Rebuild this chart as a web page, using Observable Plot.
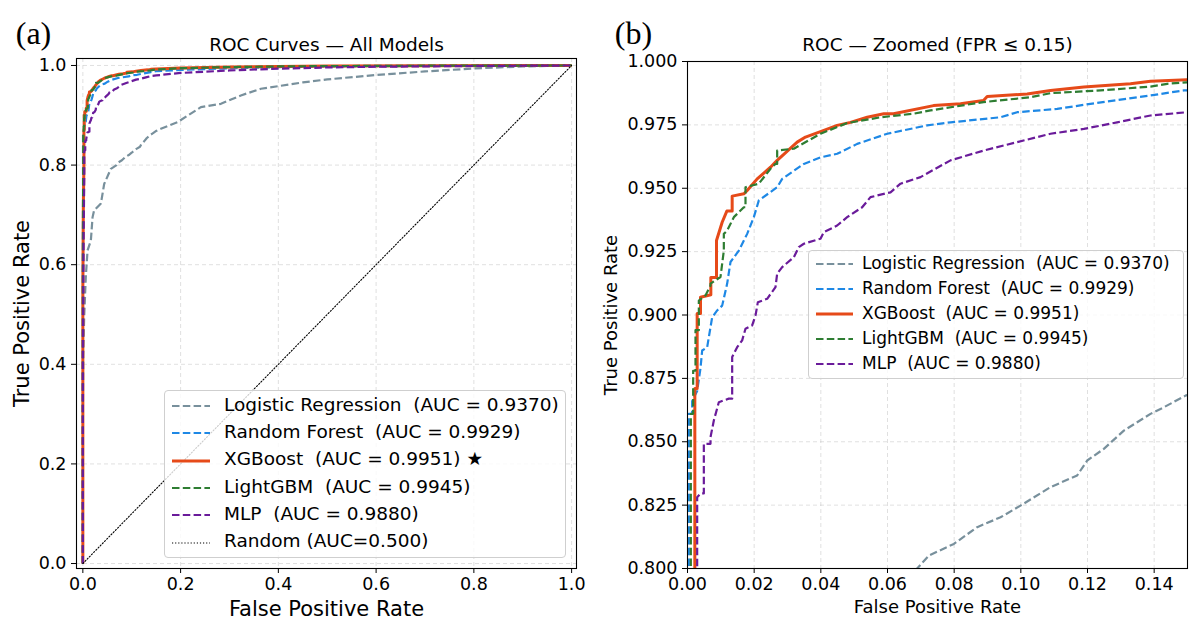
<!DOCTYPE html>
<html>
<head>
<meta charset="utf-8">
<script src="https://cdn.jsdelivr.net/npm/d3@7"></script>
<script src="https://cdn.jsdelivr.net/npm/@observablehq/plot@0.6"></script>
<style>
  body { margin: 0; background: #fff; font-family: "DejaVu Sans", sans-serif; }
  #wrap { position: relative; width: 1191px; height: 622px; overflow: hidden; background: #fff; }
  #wrap > svg { position: absolute; top: 0; overflow: visible; }
  .legend { position: absolute; background: rgba(255,255,255,0.8); border: 1px solid #cfcfcf; border-radius: 4px; box-sizing: border-box; }
  .legend .row { position: absolute; left: 0; white-space: pre; color: #000; font-family: "DejaVu Sans", sans-serif; line-height: 1; }
  .legend svg { position: absolute; overflow: visible; }
</style>
</head>
<body>
<div id="wrap"></div>
<script>
// ---------------- data ----------------
const modelNames  = ["Logistic Regression", "Random Forest", "XGBoost", "LightGBM", "MLP"];
const modelAUC    = ["0.9370", "0.9929", "0.9951", "0.9945", "0.9880"];
const modelColors = ["#78909C", "#1E88E5", "#E64A19", "#2E7D32", "#6A1B9A"];
const bestModel   = "XGBoost";
const randomLabel = "Random (AUC=0.500)";

// [FPR, TPR] points
const lrPoints = [[0,0],[0,0.30],[0.001,0.42],[0.0027,0.495],[0.006,0.575],[0.0096,0.6285],[0.0164,0.6486],[0.0198,0.695],[0.023,0.709],[0.037,0.723],[0.0436,0.762],[0.0573,0.7925],[0.0689,0.80],[0.0724,0.8051],[0.0799,0.8097],[0.0869,0.8163],[0.0939,0.8202],[0.0999,0.8248],[0.1089,0.8321],[0.1169,0.8367],[0.1199,0.8426],[0.1249,0.8472],[0.1309,0.8544],[0.1389,0.861],[0.1429,0.8636],[0.1494,0.8682],[0.1596,0.8728],[0.1937,0.8862],[0.2415,0.9163],[0.2824,0.923],[0.3233,0.9398],[0.3642,0.9532],[0.45,0.966],[0.5,0.972],[0.6,0.981],[0.7,0.988],[0.8,0.994],[0.9,0.998],[1,1]];

const rfPoints = [[0,0],[0,0.5],[0.0004,0.70],[0.0004,0.861],[0.0014,0.861],[0.0014,0.866],[0.0029,0.870],[0.0039,0.879],[0.0044,0.886],[0.0059,0.8873],[0.0074,0.8991],[0.0089,0.9018],[0.0104,0.9037],[0.0119,0.9124],[0.0129,0.9209],[0.0154,0.9254],[0.0179,0.932],[0.0199,0.9386],[0.0214,0.9452],[0.0269,0.9504],[0.0284,0.9537],[0.0349,0.9596],[0.0399,0.9622],[0.0449,0.9636],[0.0509,0.9675],[0.0599,0.9715],[0.0719,0.9748],[0.0789,0.976],[0.0939,0.978],[0.0989,0.98],[0.1109,0.9813],[0.1209,0.9833],[0.1389,0.9866],[0.1489,0.9886],[0.2,0.991],[0.3,0.9945],[0.4,0.9965],[0.5,0.998],[0.7,0.9992],[1,1]];

const xgbPoints = [[0,0],[0,0.55],[0.001,0.72],[0.0022,0.80],[0.0022,0.871],[0.0029,0.871],[0.0029,0.9006],[0.0039,0.9006],[0.0039,0.907],[0.007,0.908],[0.007,0.9148],[0.0087,0.9148],[0.0087,0.9294],[0.0104,0.9366],[0.0118,0.941],[0.0134,0.941],[0.0134,0.9469],[0.0169,0.9478],[0.0179,0.9491],[0.0209,0.9537],[0.0249,0.9583],[0.0269,0.961],[0.0329,0.9682],[0.0354,0.9702],[0.0409,0.9728],[0.0449,0.9748],[0.0489,0.976],[0.0539,0.978],[0.0589,0.9794],[0.0618,0.9794],[0.0738,0.9826],[0.0819,0.9833],[0.0888,0.9846],[0.0899,0.9862],[0.1019,0.9872],[0.1089,0.9886],[0.1189,0.9899],[0.1329,0.9912],[0.1389,0.9922],[0.15,0.9928],[0.2,0.995],[0.3,0.997],[0.4,0.998],[0.5,0.999],[0.7,0.9995],[1,1]];

const lgbmPoints = [[0,0],[0,0.55],[0.0005,0.74],[0.001,0.80],[0.001,0.861],[0.0017,0.861],[0.0017,0.878],[0.0024,0.878],[0.0024,0.894],[0.0034,0.894],[0.0034,0.9057],[0.0054,0.9077],[0.0069,0.9116],[0.0069,0.9124],[0.0099,0.915],[0.0109,0.9254],[0.0109,0.932],[0.0119,0.9333],[0.0139,0.9386],[0.0169,0.9425],[0.0174,0.9425],[0.0174,0.9504],[0.0214,0.9518],[0.0249,0.9577],[0.0264,0.9596],[0.0269,0.9596],[0.0269,0.9649],[0.0319,0.9656],[0.0399,0.9715],[0.0479,0.9757],[0.0579,0.978],[0.0678,0.9794],[0.0729,0.9807],[0.0888,0.984],[0.1029,0.9859],[0.1089,0.9875],[0.1239,0.9886],[0.1389,0.9901],[0.1439,0.9912],[0.15,0.9918],[0.2,0.9945],[0.3,0.9968],[0.4,0.998],[0.5,0.9988],[0.7,0.9995],[1,1]];

const mlpPoints = [[0,0],[0,0.4],[0.0015,0.65],[0.0029,0.78],[0.0029,0.8281],[0.0039,0.8296],[0.0049,0.8296],[0.0049,0.8492],[0.0069,0.8492],[0.0069,0.8518],[0.0079,0.8584],[0.0094,0.8656],[0.0124,0.867],[0.0134,0.867],[0.0134,0.8834],[0.0149,0.8873],[0.0164,0.89],[0.0174,0.8946],[0.0194,0.8959],[0.0204,0.8998],[0.0211,0.905],[0.0239,0.9064],[0.0264,0.911],[0.0269,0.9163],[0.0284,0.9189],[0.0319,0.9228],[0.0334,0.9268],[0.0349,0.9281],[0.0399,0.9301],[0.0409,0.9327],[0.0449,0.9353],[0.0479,0.9386],[0.0524,0.9425],[0.0549,0.9465],[0.0609,0.9484],[0.0639,0.9518],[0.0699,0.9544],[0.0789,0.961],[0.0889,0.9649],[0.0989,0.9682],[0.1089,0.9715],[0.1189,0.9734],[0.1289,0.976],[0.1389,0.9787],[0.15,0.98],[0.2,0.985],[0.3,0.99],[0.4,0.9935],[0.5,0.996],[0.6,0.9975],[0.8,0.999],[1,1]];

const randomPoints = [[0,0],[1,1]];

const xTicksA = [0, 0.2, 0.4, 0.6, 0.8, 1.0];
const yTicksA = [0, 0.2, 0.4, 0.6, 0.8, 1.0];
const xTicksB = [0, 0.02, 0.04, 0.06, 0.08, 0.10, 0.12, 0.14];
const yTicksB = [0.800, 0.825, 0.850, 0.875, 0.900, 0.925, 0.950, 0.975, 1.000];

const titleA = "ROC Curves — All Models";
const titleB = "ROC — Zoomed (FPR ≤ 0.15)";
const xLabel = "False Positive Rate";
const yLabel = "True Positive Rate";

// ---------------- drawing ----------------
const series = [lrPoints, rfPoints, xgbPoints, lgbmPoints, mlpPoints];
const dashModel = "7.5,3.3";
const dashRandom = "1.2,1.9";
function lineStyle(i) {
  const o = {stroke: modelColors[i], strokeWidth: modelNames[i] === bestModel ? 3 : 2.2, strokeLinecap: "butt", strokeLinejoin: "round"};
  if (modelNames[i] !== bestModel) o.strokeDasharray = dashModel;
  return o;
}
function modelMarks() {
  return series.map((pts, i) => Plot.line(pts, {x: d => d[0], y: d => d[1], clip: true, ...lineStyle(i)}));
}
const gridStyle = {stroke: "#b8b8b8", strokeOpacity: 0.55, strokeWidth: 0.8, strokeDasharray: "4,3"};
const txt = {lineAnchor: "middle", textAnchor: "middle", fill: "#000"};
const tickFont = 17.5;

const left = Plot.plot({
  width: 595, height: 622,
  marginLeft: 76, marginRight: 19, marginTop: 58, marginBottom: 54,
  x: {domain: [-0.013, 1.01]},
  y: {domain: [-0.010, 1.014]},
  style: {fontFamily: "DejaVu Sans", fontSize: "16px", color: "#000", background: "transparent"},
  marks: [
    Plot.gridX(xTicksA, gridStyle),
    Plot.gridY(yTicksA, gridStyle),
    ...modelMarks(),
    Plot.line(randomPoints, {x: d => d[0], y: d => d[1], stroke: "#000", strokeWidth: 1.1, strokeDasharray: dashRandom}),
    Plot.frame({stroke: "#000", strokeWidth: 1.1}),
    Plot.axisX(xTicksA, {tickFormat: d3.format(".1f"), tickSize: 5, tickPadding: 4, fontSize: tickFont, label: null}),
    Plot.axisY(yTicksA, {tickFormat: d3.format(".1f"), tickSize: 5, tickPadding: 5, fontSize: tickFont, label: null}),
    Plot.text([titleA], {frameAnchor: "top", dy: -13, fontSize: 18.5, ...txt}),
    Plot.text(["(a)"], {frameAnchor: "top-left", dx: -43, dy: -25, fontSize: 32, fontFamily: "Liberation Serif", ...txt}),
    Plot.text([xLabel], {frameAnchor: "bottom", dy: 41, fontSize: 21, ...txt}),
    Plot.text([yLabel], {frameAnchor: "left", dx: -54, rotate: -90, fontSize: 21, ...txt})
  ]
});

const right = Plot.plot({
  width: 596, height: 622,
  marginLeft: 92, marginRight: 4, marginTop: 61, marginBottom: 54,
  x: {domain: [0, 0.15]},
  y: {domain: [0.8, 1.0]},
  style: {fontFamily: "DejaVu Sans", fontSize: "16px", color: "#000", background: "transparent"},
  marks: [
    Plot.gridX(xTicksB, gridStyle),
    Plot.gridY(yTicksB, gridStyle),
    ...modelMarks(),
    Plot.frame({stroke: "#000", strokeWidth: 1.1}),
    Plot.axisX(xTicksB, {tickFormat: d3.format(".2f"), tickSize: 5, tickPadding: 4, fontSize: tickFont, label: null}),
    Plot.axisY(yTicksB, {tickFormat: d3.format(".3f"), tickSize: 5, tickPadding: 5, fontSize: tickFont, label: null}),
    Plot.text([titleB], {frameAnchor: "top", dy: -16, fontSize: 18.5, ...txt}),
    Plot.text(["(b)"], {frameAnchor: "top-left", dx: -54, dy: -28, fontSize: 32, fontFamily: "Liberation Serif", ...txt}),
    Plot.text([xLabel], {frameAnchor: "bottom", dy: 39, fontSize: 18, ...txt}),
    Plot.text([yLabel], {frameAnchor: "left", dx: -76, rotate: -90, fontSize: 18, ...txt})
  ]
});

const wrap = document.getElementById("wrap");
left.style.left = "0px";
right.style.left = "595px";
wrap.appendChild(left);
wrap.appendChild(right);

// ---------------- legends ----------------
function swatch(styleOpt, w) {
  const ns = "http://www.w3.org/2000/svg";
  const s = document.createElementNS(ns, "svg");
  s.setAttribute("width", w); s.setAttribute("height", 10);
  const l = document.createElementNS(ns, "line");
  l.setAttribute("x1", 0); l.setAttribute("x2", w); l.setAttribute("y1", 5); l.setAttribute("y2", 5);
  l.setAttribute("stroke", styleOpt.stroke);
  l.setAttribute("stroke-width", styleOpt.strokeWidth);
  if (styleOpt.strokeDasharray) l.setAttribute("stroke-dasharray", styleOpt.strokeDasharray);
  s.appendChild(l);
  return s;
}
function legend(box, entries, cfg) {
  const div = document.createElement("div");
  div.className = "legend";
  Object.assign(div.style, {left: box[0] + "px", top: box[1] + "px", width: box[2] + "px", height: box[3] + "px"});
  entries.forEach((e, k) => {
    const cy = cfg.first + k * cfg.step;
    const sw = swatch(e.style, cfg.swW);
    sw.style.left = cfg.swX + "px"; sw.style.top = (cy - 5) + "px";
    div.appendChild(sw);
    const t = document.createElement("div");
    t.className = "row";
    t.textContent = e.label;
    Object.assign(t.style, {left: cfg.textX + "px", top: (cy - cfg.font * 0.55) + "px", fontSize: cfg.font + "px"});
    div.appendChild(t);
  });
  wrap.appendChild(div);
}
const leftEntries = modelNames.map((n, i) => ({
  label: `${n}  (AUC = ${modelAUC[i]})` + (n === bestModel ? " ★" : ""),
  style: lineStyle(i)
}));
leftEntries.push({label: randomLabel, style: {stroke: "#000", strokeWidth: 1.1, strokeDasharray: dashRandom}});
legend([164, 390, 402, 168], leftEntries, {first: 15, step: 27.3, swX: 7, swW: 38, textX: 59, font: 18.5});

const rightEntries = modelNames.map((n, i) => ({label: `${n}  (AUC = ${modelAUC[i]})`, style: lineStyle(i)}));
legend([808, 250, 376, 129], rightEntries, {first: 13, step: 25, swX: 7, swW: 37, textX: 53, font: 17});
</script>
</body>
</html>
